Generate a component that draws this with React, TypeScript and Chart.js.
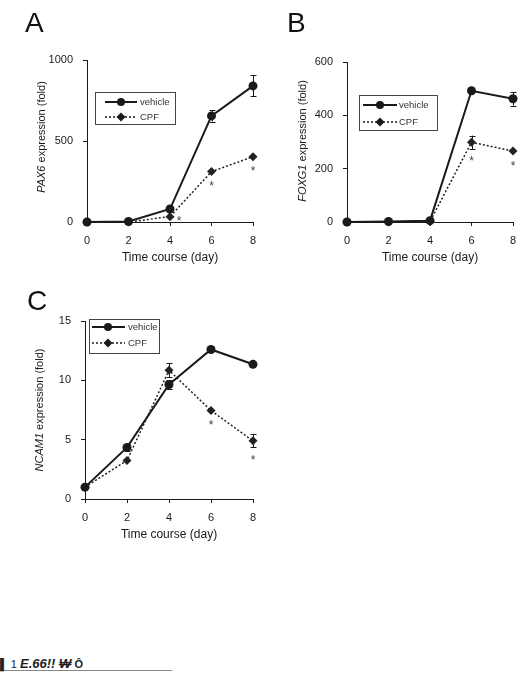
import React, { useEffect, useRef } from 'react';
import { Chart, registerables } from 'chart.js';

Chart.register(...registerables);

const FONT = "'Liberation Sans', Arial, Helvetica, sans-serif";
const INK = '#1a1a1a';

// ---- data ----
const days = [0, 2, 4, 6, 8];
const seriesNames = ['vehicle', 'CPF'];
const xTitle = 'Time course (day)';
const yTitleRest = ' expression (fold)';

const pax6Vehicle = [0, 3, 80, 655, 840];
const pax6VehicleErr = [0, 0, 10, 35, 65];
const pax6Cpf = [0, 0, 33, 311, 403];
const pax6CpfErr = [0, 0, 6, 10, 10];
const pax6Stars = [false, false, true, true, true];
const pax6Ticks = [0, 500, 1000];

const foxg1Vehicle = [0, 2, 5, 492, 462];
const foxg1VehicleErr = [0, 0, 3, 10, 26];
const foxg1Cpf = [0, 0, 2, 299, 266];
const foxg1CpfErr = [0, 0, 0, 25, 8];
const foxg1Stars = [false, false, false, true, true];
const foxg1Ticks = [0, 200, 400, 600];

const ncam1Vehicle = [1.0, 4.35, 9.65, 12.6, 11.35];
const ncam1VehicleErr = [0.1, 0.3, 0.35, 0.1, 0.2];
const ncam1Cpf = [1.0, 3.25, 10.85, 7.45, 4.9];
const ncam1CpfErr = [0.1, 0.15, 0.6, 0.2, 0.55];
const ncam1Stars = [false, false, false, true, true];
const ncam1Ticks = [0, 5, 10, 15];

type Legend = { x: number; y: number; w: number; h: number; x0: number; x1: number; xm: number; tx: number; y1: number; y2: number };
type Panel = {
  id: string;
  gene: string;
  left: number; top: number; width: number; height: number;
  area: { l: number; t: number; r: number; b: number };
  yTitlePos: [number, number];
  yMax: number;
  ticks: number[];
  vehicle: number[]; vehicleErr: number[];
  cpf: number[]; cpfErr: number[];
  stars: boolean[];
  starOffsets: [number, number][];
  legend: Legend;
};

const panels: Panel[] = [
  {
    id: 'A', gene: 'PAX6', left: 0, top: 0, width: 270, height: 280,
    area: { l: 87, t: 60, r: 253, b: 222 },
    yTitlePos: [42, 137],
    yMax: 1000, ticks: pax6Ticks,
    vehicle: pax6Vehicle, vehicleErr: pax6VehicleErr, cpf: pax6Cpf, cpfErr: pax6CpfErr,
    stars: pax6Stars, starOffsets: [[0, 0], [0, 0], [9, 1], [0, 11], [0, 11]],
    legend: { x: 95, y: 92, w: 80, h: 32, x0: 105, x1: 137, xm: 121, tx: 140, y1: 102, y2: 117 },
  },
  {
    id: 'B', gene: 'FOXG1', left: 262, top: 0, width: 267, height: 280,
    area: { l: 85, t: 62, r: 251, b: 222 },
    yTitlePos: [41, 141],
    yMax: 600, ticks: foxg1Ticks,
    vehicle: foxg1Vehicle, vehicleErr: foxg1VehicleErr, cpf: foxg1Cpf, cpfErr: foxg1CpfErr,
    stars: foxg1Stars, starOffsets: [[0, 0], [0, 0], [0, 0], [0, 15], [0, 11]],
    legend: { x: 97, y: 95, w: 78, h: 35, x0: 101, x1: 135, xm: 118, tx: 137, y1: 105, y2: 122 },
  },
  {
    id: 'C', gene: 'NCAM1', left: 0, top: 280, width: 270, height: 280,
    area: { l: 85, t: 41, r: 253, b: 219 },
    yTitlePos: [40, 130],
    yMax: 15, ticks: ncam1Ticks,
    vehicle: ncam1Vehicle, vehicleErr: ncam1VehicleErr, cpf: ncam1Cpf, cpfErr: ncam1CpfErr,
    stars: ncam1Stars, starOffsets: [[0, 0], [0, 0], [0, 0], [0, 11], [0, 16]],
    legend: { x: 89, y: 39, w: 70, h: 34, x0: 92, x1: 125, xm: 108, tx: 128, y1: 47, y2: 63 },
  },
];

const X_AXIS_H = 50;

function drawDiamond(ctx: CanvasRenderingContext2D, x: number, y: number, r: number) {
  ctx.beginPath();
  ctx.moveTo(x, y - r);
  ctx.lineTo(x + r, y);
  ctx.lineTo(x, y + r);
  ctx.lineTo(x - r, y);
  ctx.closePath();
  ctx.fill();
}

function PanelChart({ p }: { p: Panel }) {
  const ref = useRef<HTMLCanvasElement | null>(null);
  useEffect(() => {
    if (!ref.current) return;
    const errs = [p.vehicleErr, p.cpfErr];
    const vals = [p.vehicle, p.cpf];
    const extras = {
      id: 'extras' + p.id,
      beforeDatasetsDraw(chart: any) {
        const ctx = chart.ctx as CanvasRenderingContext2D;
        const ys = chart.scales.y;
        ctx.save();
        ctx.strokeStyle = INK;
        ctx.lineWidth = 1;
        [0, 1].forEach((di) => {
          const meta = chart.getDatasetMeta(di);
          meta.data.forEach((pt: any, i: number) => {
            const v = vals[di][i];
            const e = errs[di][i];
            const yt = ys.getPixelForValue(v + e);
            const yb = ys.getPixelForValue(v - e);
            if (Math.abs(yb - yt) / 2 < 3) return;
            const x = Math.round(pt.x) + 0.5;
            ctx.beginPath();
            ctx.moveTo(x, yt);
            ctx.lineTo(x, yb);
            ctx.moveTo(x - 3, Math.round(yt) + 0.5);
            ctx.lineTo(x + 3, Math.round(yt) + 0.5);
            ctx.moveTo(x - 3, Math.round(yb) + 0.5);
            ctx.lineTo(x + 3, Math.round(yb) + 0.5);
            ctx.stroke();
          });
        });
        ctx.restore();
      },
      afterDatasetsDraw(chart: any) {
        const ctx = chart.ctx as CanvasRenderingContext2D;
        ctx.save();
        // asterisks
        const meta = chart.getDatasetMeta(1);
        ctx.fillStyle = '#444';
        ctx.font = `12px ${FONT}`;
        ctx.textAlign = 'center';
        ctx.textBaseline = 'alphabetic';
        p.stars.forEach((s, i) => {
          if (!s) return;
          const pt = meta.data[i];
          const [dx, dy] = p.starOffsets[i];
          ctx.fillText('*', pt.x + dx, pt.y + dy + 7.5);
        });
        // legend
        const L = p.legend;
        ctx.fillStyle = '#fff';
        ctx.fillRect(L.x, L.y, L.w, L.h);
        ctx.strokeStyle = '#444';
        ctx.lineWidth = 1;
        ctx.strokeRect(L.x + 0.5, L.y + 0.5, L.w, L.h);
        ctx.strokeStyle = INK;
        ctx.fillStyle = INK;
        ctx.lineWidth = 2;
        ctx.beginPath();
        ctx.moveTo(L.x0, L.y1);
        ctx.lineTo(L.x1, L.y1);
        ctx.stroke();
        ctx.beginPath();
        ctx.arc(L.xm, L.y1, 4, 0, Math.PI * 2);
        ctx.fill();
        ctx.lineWidth = 1.5;
        ctx.setLineDash([2, 2]);
        ctx.beginPath();
        ctx.moveTo(L.x0, L.y2);
        ctx.lineTo(L.x1, L.y2);
        ctx.stroke();
        ctx.setLineDash([]);
        drawDiamond(ctx, L.xm, L.y2, 4.5);
        ctx.fillStyle = '#333';
        ctx.font = `9.5px ${FONT}`;
        ctx.textAlign = 'left';
        ctx.textBaseline = 'middle';
        ctx.fillText(seriesNames[0], L.tx, L.y1);
        ctx.fillText(seriesNames[1], L.tx, L.y2);
        // y-axis title with italic gene symbol
        const [tx, ty] = p.yTitlePos;
        ctx.translate(tx, ty);
        ctx.rotate(-Math.PI / 2);
        ctx.fillStyle = INK;
        ctx.textBaseline = 'middle';
        ctx.font = `italic 11px ${FONT}`;
        const wg = ctx.measureText(p.gene).width;
        ctx.font = `11px ${FONT}`;
        const wr = ctx.measureText(yTitleRest).width;
        const x0 = -(wg + wr) / 2;
        ctx.font = `italic 11px ${FONT}`;
        ctx.fillText(p.gene, x0, 0);
        ctx.font = `11px ${FONT}`;
        ctx.fillText(yTitleRest, x0 + wg, 0);
        ctx.restore();
      },
    };

    const axisCommon = {
      grid: { drawOnChartArea: false, drawTicks: true, tickLength: 4, color: INK, lineWidth: 1 },
      border: { display: true, color: INK, width: 1 },
    };

    const chart = new Chart(ref.current, {
      type: 'line',
      data: {
        datasets: [
          {
            label: seriesNames[0],
            data: days.map((d, i) => ({ x: d, y: p.vehicle[i] })),
            borderColor: INK,
            backgroundColor: INK,
            borderWidth: 2,
            pointStyle: 'circle',
            pointRadius: 4.5,
            pointBorderWidth: 0,
            pointBackgroundColor: INK,
            tension: 0,
            clip: false as any,
          },
          {
            label: seriesNames[1],
            data: days.map((d, i) => ({ x: d, y: p.cpf[i] })),
            borderColor: '#222',
            backgroundColor: '#222',
            borderWidth: 1.5,
            borderDash: [2, 2],
            pointStyle: 'rectRot',
            pointRadius: 4.5,
            pointBorderWidth: 0,
            pointBackgroundColor: '#222',
            tension: 0,
            clip: false as any,
          },
        ],
      },
      options: {
        responsive: false,
        animation: false,
        devicePixelRatio: 1,
        events: [],
        layout: {
          padding: {
            left: 0,
            top: p.area.t,
            right: p.width - p.area.r,
            bottom: p.height - p.area.b - X_AXIS_H,
          },
        },
        plugins: { legend: { display: false }, tooltip: { enabled: false } },
        scales: {
          x: {
            type: 'linear',
            min: 0,
            max: 8,
            afterFit: (s: any) => { s.height = X_AXIS_H; },
            afterBuildTicks: (s: any) => { s.ticks = days.map((v) => ({ value: v })); },
            ticks: { font: { family: FONT, size: 11 }, color: INK, padding: 8, maxRotation: 0, autoSkip: false, callback: (v: any) => String(v) },
            title: { display: true, text: xTitle, font: { family: FONT, size: 12 }, color: INK, padding: { top: 0, bottom: 7 } },
            ...axisCommon,
          },
          y: {
            type: 'linear',
            min: 0,
            max: p.yMax,
            afterFit: (s: any) => { s.width = p.area.l; },
            afterBuildTicks: (s: any) => { s.ticks = p.ticks.map((v) => ({ value: v })); },
            ticks: { font: { family: FONT, size: 11 }, color: INK, padding: 10, autoSkip: false, callback: (v: any) => String(v) },
            ...axisCommon,
          },
        },
      } as any,
      plugins: [extras],
    });
    return () => chart.destroy();
  }, [p]);

  return (
    <canvas
      ref={ref}
      width={p.width}
      height={p.height}
      style={{ position: 'absolute', left: p.left, top: p.top, width: p.width, height: p.height }}
    />
  );
}

const letters = [
  { t: 'A', left: 25, top: 9 },
  { t: 'B', left: 287, top: 9 },
  { t: 'C', left: 27, top: 287 },
];

export default function App() {
  return (
    <div style={{ position: 'absolute', left: 0, top: 0, width: 529, height: 675, background: '#fff', fontFamily: FONT, color: INK, overflow: 'hidden' }}>
      {panels.map((p) => (
        <PanelChart key={p.id} p={p} />
      ))}
      {letters.map((l) => (
        <div key={l.t} style={{ position: 'absolute', left: l.left, top: l.top, fontSize: 28, lineHeight: 1, fontFamily: FONT, color: '#111' }}>
          {l.t}
        </div>
      ))}
      <div
        style={{
          position: 'absolute',
          left: 0,
          top: 657,
          width: 172,
          height: 13,
          borderBottom: '1px solid #888',
          fontSize: 11,
          lineHeight: '13px',
          whiteSpace: 'nowrap',
          color: '#222',
        }}
      >
        <b>▌</b> 1 <b><i style={{ fontSize: 13 }}>E.66!! ₩</i></b> <b>Ô</b>
      </div>
    </div>
  );
}
